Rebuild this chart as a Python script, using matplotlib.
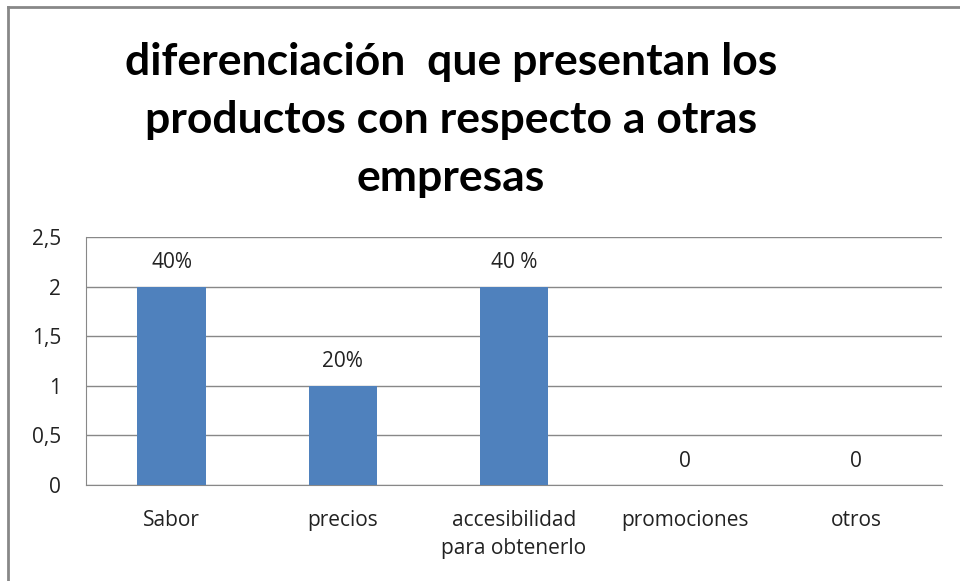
import matplotlib
matplotlib.use("Agg")
import matplotlib.pyplot as plt
from matplotlib.lines import Line2D

categories = ["Sabor", "precios", "accesibilidad\npara obtenerlo", "promociones", "otros"]
values = [2, 1, 2, 0, 0]
labels = ["40%", "20%", "40 %", "0", "0"]
yticks = [0, 0.5, 1, 1.5, 2, 2.5]
ytick_labels = ["0", "0,5", "1", "1,5", "2", "2,5"]
title = "diferenciación  que presentan los\nproductos con respecto a otras\nempresas"

plt.rcParams['font.family'] = ['Open Sans', 'DejaVu Sans']

W, H = 960, 581
fig = plt.figure(figsize=(9.6, 5.81), dpi=100)
ax = fig.add_axes([86 / W, 1 - 485 / H, (942 - 86) / W, (485 - 237) / H])

x = range(len(categories))
ax.bar(x, values, width=0.4, color="#4F81BD", zorder=3)
for i, (v, lab) in enumerate(zip(values, labels)):
    ax.text(i, v + 0.24, lab, ha="center", va="center", fontsize=15, color="#222222")

ax.set_xlim(-0.5, len(categories) - 0.5)
ax.set_ylim(0, 2.5)
ax.set_yticks(yticks)
ax.set_yticklabels(ytick_labels, fontsize=15)
ax.set_xticks(list(x))
ax.set_xticklabels(categories, fontsize=15, linespacing=1.45, va="top")
ax.tick_params(axis="both", length=0, colors="#222222")
ax.tick_params(axis="y", pad=18)
ax.tick_params(axis="x", pad=18)
ax.grid(axis="y", color="#888888", linewidth=1, zorder=0)
for s in ["top", "right"]:
    ax.spines[s].set_visible(False)
ax.spines["left"].set_color("#888888")
ax.spines["bottom"].set_color("#888888")

fig.text(451 / W, 1 - 120 / H, title, ha="center", va="center", fontsize=32,
         fontweight="bold", linespacing=1.55, family=["Lato", "DejaVu Sans"])

# outer chart border (only top and left visible in reference)
fig.add_artist(Line2D([8 / W, 1], [1 - 7 / H, 1 - 7 / H], transform=fig.transFigure,
                      color="#888888", linewidth=2))
fig.add_artist(Line2D([8 / W, 8 / W], [0, 1 - 7 / H], transform=fig.transFigure,
                      color="#888888", linewidth=2))

fig.savefig("out.png", dpi=100)
